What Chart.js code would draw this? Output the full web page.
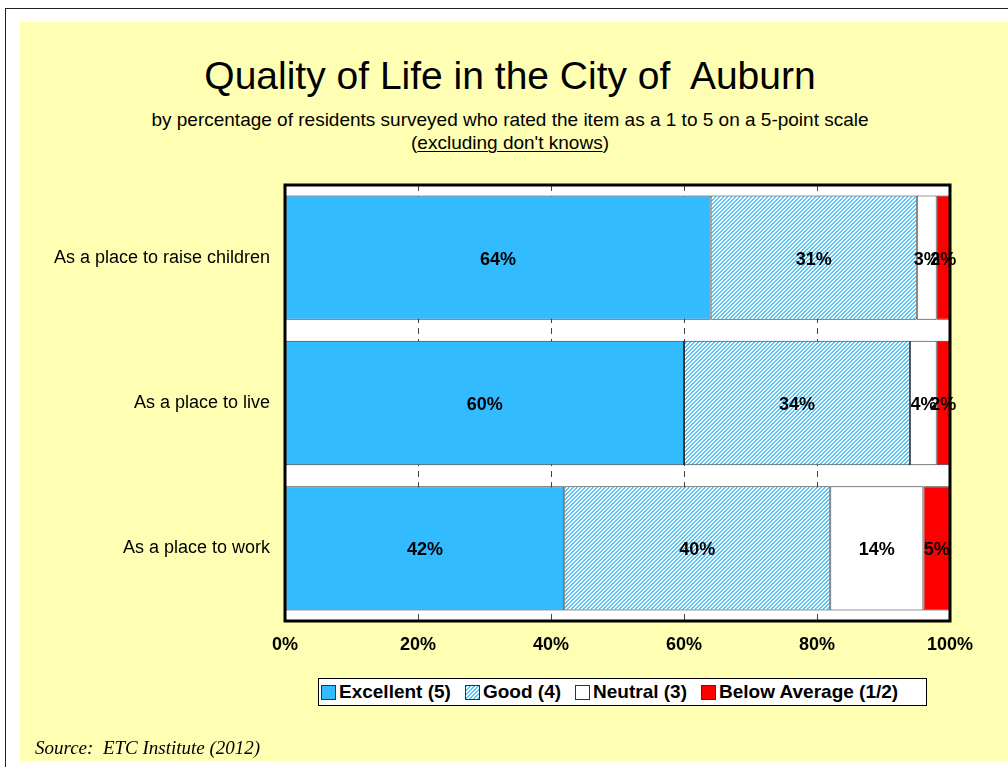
<!DOCTYPE html>
<html>
<head>
<meta charset="utf-8">
<title>Quality of Life in the City of Auburn</title>
<script src="https://cdn.jsdelivr.net/npm/chart.js@4.4.1/dist/chart.umd.min.js"></script>
<style>
    body { margin: 0; background: #fff; font-family: "Liberation Sans", Arial, sans-serif; }
    #page { position: relative; width: 1008px; height: 767px; overflow: hidden; }
    #frame { position: absolute; left: 5px; top: 8px; width: 1010px; height: 770px; border-left: 1px solid #222; border-top: 1px solid #222; }
    #panel { position: absolute; left: 20px; top: 22px; width: 988px; height: 739px; background: #FFFFB3; }
    .centered { position: absolute; left: 0; width: 1020px; text-align: center; color: #000; white-space: pre; }
    #title { top: 55px; font-size: 39px; line-height: 42px; }
    #sub1 { top: 109px; font-size: 19px; line-height: 22px; }
    #sub2 { top: 132px; font-size: 19px; line-height: 22px; }
    #sub2 u { text-decoration-thickness: 1px; text-underline-offset: 2px; }
    #chart { position: absolute; left: 0; top: 0; }
    #legend { position: absolute; left: 318px; top: 678px; width: 605px; height: 26px; border: 1px solid #000; background: #fff;
              display: flex; align-items: center; padding-left: 2px; box-sizing: content-box; }
    .item { display: flex; align-items: center; margin-right: 14px; font-weight: bold; font-size: 19px; }
    .swatch { width: 15px; height: 15px; border: 1px solid #333; margin-right: 3px; box-sizing: border-box; }
    #source { position: absolute; left: 35px; top: 737px; font-family: "Liberation Serif", "Times New Roman", serif;
              font-style: italic; font-size: 19px; line-height: 22px; white-space: pre; }
</style>
</head>
<body>
<div id="page">
    <div id="frame"></div>
    <div id="panel"></div>
    <div class="centered" id="title">Quality of Life in the City of  Auburn</div>
    <div class="centered" id="sub1">by percentage of residents surveyed who rated the item as a 1 to 5 on a 5-point scale</div>
    <div class="centered" id="sub2">(<u>excluding don't knows</u>)</div>
    <canvas id="chart" width="1008" height="767"></canvas>
    <div id="legend"></div>
    <div id="source">Source:  ETC Institute (2012)</div>
</div>
<script>
const categories = ['As a place to raise children', 'As a place to live', 'As a place to work'];
const seriesNames = ['Excellent (5)', 'Good (4)', 'Neutral (3)', 'Below Average (1/2)'];
const excellent = [64, 60, 42];
const good = [31, 34, 40];
const neutral = [3, 4, 14];
const belowAverage = [2, 2, 5];
const tickLabels = ['0%', '20%', '40%', '60%', '80%', '100%'];

const BLUE = '#33BBFF';
const RED = '#FF0000';

// diagonal hatch for the "Good" series
function makeHatch() {
    const c = document.createElement('canvas');
    c.width = 4;
    c.height = 4;
    const g = c.getContext('2d');
    g.fillStyle = '#fff';
    g.fillRect(0, 0, 4, 4);
    g.fillStyle = '#55C6FF';
    for (let x = 0; x < 4; x++) {
        for (let y = 0; y < 4; y++) {
            if ((x + y) % 4 === 3 || (x + y) % 4 === 0) g.fillRect(x, y, 1, 1);
        }
    }
    return g.createPattern(c, 'repeat');
}

const fills = [BLUE, makeHatch(), '#FFFFFF', RED];
const swatchCss = [BLUE, 'repeating-linear-gradient(135deg, #55C6FF 0 1.4px, #fff 1.4px 2.8px)', '#FFFFFF', RED];
const seriesData = [excellent, good, neutral, belowAverage];

// white plot background + thick black frame
const plotFrame = {
    id: 'plotFrame',
    beforeDraw(chart) {
        const a = chart.chartArea;
        const ctx = chart.ctx;
        ctx.save();
        ctx.fillStyle = '#fff';
        ctx.fillRect(a.left, a.top, a.right - a.left, a.bottom - a.top);
        ctx.restore();
    },
    afterDraw(chart) {
        const a = chart.chartArea;
        const ctx = chart.ctx;
        ctx.save();
        ctx.strokeStyle = '#000';
        ctx.lineWidth = 3;
        ctx.strokeRect(a.left, a.top, a.right - a.left, a.bottom - a.top);
        ctx.restore();
    }
};

// percentage labels centred on each segment
const segmentLabels = {
    id: 'segmentLabels',
    afterDatasetsDraw(chart) {
        const ctx = chart.ctx;
        const a = chart.chartArea;
        ctx.save();
        ctx.font = 'bold 18px "Liberation Sans", Arial, sans-serif';
        ctx.fillStyle = '#000';
        ctx.textAlign = 'center';
        ctx.textBaseline = 'middle';
        chart.data.datasets.forEach((ds, i) => {
            chart.getDatasetMeta(i).data.forEach((bar, j) => {
                const left = Math.min(bar.x, bar.base);
                const right = Math.min(Math.max(bar.x, bar.base), a.right);
                ctx.fillText(ds.data[j] + '%', (left + right) / 2, bar.y + 2);
            });
        });
        ctx.restore();
    }
};

new Chart(document.getElementById('chart'), {
    type: 'bar',
    data: {
        labels: categories,
        datasets: seriesNames.map((name, i) => ({
            label: name,
            data: seriesData[i],
            backgroundColor: fills[i],
            borderColor: '#333',
            borderWidth: 1,
            borderSkipped: false,
            categoryPercentage: 1,
            barPercentage: 0.855
        }))
    },
    options: {
        indexAxis: 'y',
        responsive: false,
        animation: false,
        layout: { padding: { left: 0, right: 58, top: 185, bottom: 0 } },
        plugins: {
            legend: { display: false },
            tooltip: { enabled: false }
        },
        scales: {
            x: {
                stacked: true,
                min: 0,
                max: 100,
                ticks: {
                    stepSize: 20,
                    padding: 13,
                    color: '#000',
                    font: { family: '"Liberation Sans", Arial, sans-serif', size: 18, weight: 'bold' },
                    callback: (v, idx) => tickLabels[idx]
                },
                grid: {
                    drawTicks: false,
                    color: ctx => (ctx.tick && (ctx.tick.value === 0 || ctx.tick.value === 100)) ? 'rgba(0,0,0,0)' : '#444',
                    lineWidth: 1
                },
                border: { display: false, dash: [6, 5] },
                afterFit(scale) {
                    scale.height = 146;
                    scale.paddingLeft = 0;
                    scale.paddingRight = 0;
                }
            },
            y: {
                stacked: true,
                ticks: {
                    padding: 15,
                    color: '#000',
                    font: { family: '"Liberation Sans", Arial, sans-serif', size: 18 }
                },
                grid: { display: false, drawTicks: false },
                border: { display: false },
                afterFit(scale) {
                    scale.width = 285;
                    scale.paddingTop = 0;
                    scale.paddingBottom = 0;
                }
            }
        }
    },
    plugins: [plotFrame, segmentLabels]
});

// legend box below the plot
const legend = document.getElementById('legend');
seriesNames.forEach((name, i) => {
    const item = document.createElement('div');
    item.className = 'item';
    const sw = document.createElement('span');
    sw.className = 'swatch';
    sw.style.background = swatchCss[i];
    item.appendChild(sw);
    item.appendChild(document.createTextNode(name));
    legend.appendChild(item);
});
</script>
</body>
</html>
